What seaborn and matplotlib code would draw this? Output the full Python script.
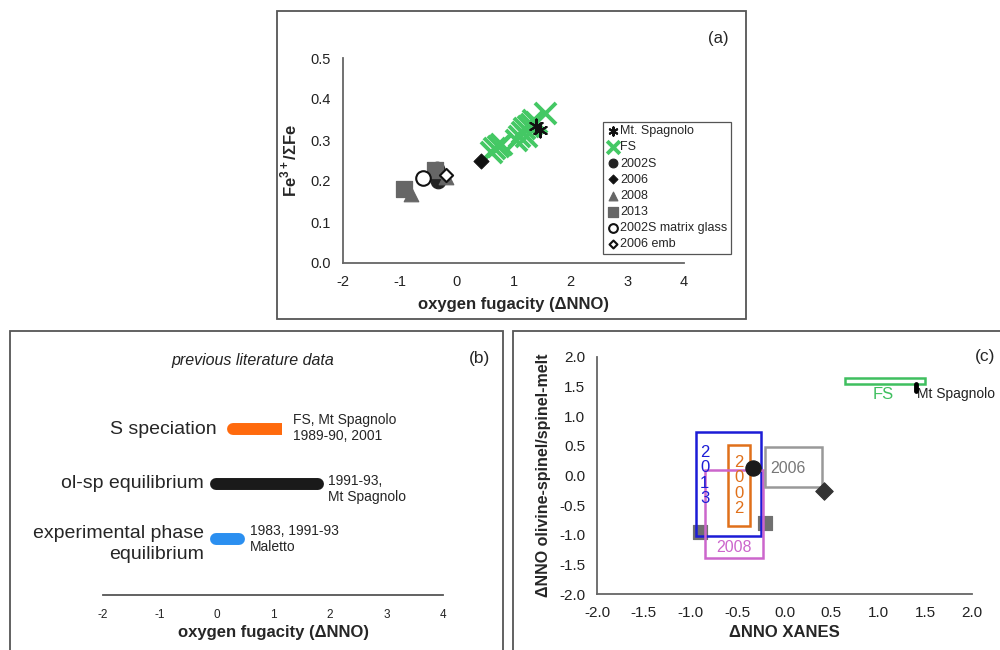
import matplotlib
matplotlib.use("Agg")
import matplotlib.pyplot as plt
from matplotlib.patches import Rectangle
import seaborn as sns
import pandas as pd

# --- panel (a): Fe3+/sumFe vs oxygen fugacity ---
spagnolo_x = [1.40, 1.47]
spagnolo_y = [0.335, 0.325]
fs_x = [0.60, 0.65, 0.72, 0.78, 1.05, 1.10, 1.15, 1.18, 1.22, 1.25, 1.30, 1.35, 1.40, 1.55]
fs_y = [0.270, 0.280, 0.285, 0.290, 0.300, 0.310, 0.320, 0.330, 0.310, 0.335, 0.340, 0.350, 0.345, 0.365]
s2002_x = [-0.35, -0.33]
s2002_y = [0.230, 0.200]
e2006_x = [0.43]
e2006_y = [0.250]
e2008_x = [-0.80, -0.18]
e2008_y = [0.168, 0.210]
e2013_x = [-0.92, -0.38]
e2013_y = [0.180, 0.226]
glass_x = [-0.60]
glass_y = [0.207]
emb_x = [-0.18]
emb_y = [0.215]

# --- panel (b): previous literature ranges (dNNO) ---
lit_methods = ["experimental phase\nequilibrium", "ol-sp equilibrium", "S speciation"]
lit_lo = [0.0, 0.0, 0.30]
lit_hi = [0.40, 1.80, 1.15]
lit_notes = ["1983, 1991-93\nMaletto", "1991-93,\nMt Spagnolo", "FS, Mt Spagnolo\n1989-90, 2001"]
lit_colors = ["#2b8ff0", "#1a1a1a", "#ff6a0d"]

# --- panel (c): XANES vs olivine-spinel boxes ---
box_names = ["FS", "2013", "2002", "2008", "2006"]
box_x0 = [0.65, -0.94, -0.60, -0.85, -0.21]
box_x1 = [1.50, -0.25, -0.37, -0.23, 0.40]
box_y0 = [1.55, -1.02, -0.86, -1.40, -0.20]
box_y1 = [1.65, 0.74, 0.51, 0.10, 0.48]
box_colors = ["#3fbf5f", "#1c1cd6", "#e0701a", "#cc66cc", "#999999"]
c_circle = ([-0.34], [0.12])
c_diamond = ([0.42], [-0.27])
c_squares = ([-0.90, -0.21], [-0.95, -0.80])
c_spagnolo = ([1.40, 1.40], [1.42, 1.55])

sns.set_theme(style="white")
plt.rcParams["font.family"] = ["Liberation Sans", "DejaVu Sans"]
plt.rcParams["axes.unicode_minus"] = False
plt.rcParams["mathtext.fontset"] = "custom"
plt.rcParams["mathtext.bf"] = "Liberation Sans:bold"
plt.rcParams["mathtext.rm"] = "Liberation Sans"

W, H = 1000, 650
fig = plt.figure(figsize=(10, 6.5), dpi=100)


def px_axes(x0, y0, x1, y1):
    return fig.add_axes([x0 / W, 1 - y1 / H, (x1 - x0) / W, (y1 - y0) / H])


def frame(x0, y0, x1, y1):
    fig.add_artist(Rectangle((x0 / W, 1 - y1 / H), (x1 - x0) / W, (y1 - y0) / H,
                             transform=fig.transFigure, fill=False, ec="#555555", lw=1.3))


def style_axes(ax, col="#666666"):
    for s in ["top", "right"]:
        ax.spines[s].set_visible(False)
    for s in ["left", "bottom"]:
        ax.spines[s].set_color(col)
        ax.spines[s].set_linewidth(1.3)
    ax.tick_params(direction="out", length=5, width=1.2, color=col, labelcolor="#222222")


frame(277, 11, 746, 319)
frame(10, 331, 503, 660)
frame(513, 331, 1003, 660)

# ================= (a) =================
ax = px_axes(343, 58, 684, 263)
style_axes(ax)
kw = dict(ax=ax, legend=True)
sns.scatterplot(x=spagnolo_x, y=spagnolo_y, marker=(6, 2, 0), s=100, color="#111111",
                linewidth=1.5, label="Mt. Spagnolo", zorder=4, **kw)
sns.scatterplot(x=fs_x, y=fs_y, marker="x", s=230, color="#44c864", linewidth=2.8,
                label="FS", zorder=3, **kw)
sns.scatterplot(x=s2002_x, y=s2002_y, marker="o", s=110, color="#222222", edgecolor="#222222",
                label="2002S", zorder=3, **kw)
sns.scatterplot(x=e2006_x, y=e2006_y, marker="D", s=60, color="#111111", edgecolor="#111111",
                label="2006", zorder=3, **kw)
sns.scatterplot(x=e2008_x, y=e2008_y, marker="^", s=110, color="#666666", edgecolor="#666666",
                label="2008", zorder=3, **kw)
sns.scatterplot(x=e2013_x, y=e2013_y, marker="s", s=130, color="#666666", edgecolor="#666666",
                label="2013", zorder=3, **kw)
sns.scatterplot(x=glass_x, y=glass_y, marker="o", s=110, facecolor="white", edgecolor="#111111",
                linewidth=1.5, label="2002S matrix glass", zorder=4, **kw)
sns.scatterplot(x=emb_x, y=emb_y, marker="D", s=45, facecolor="white", edgecolor="#111111",
                linewidth=1.5, label="2006 emb", zorder=4, **kw)
ax.set_xlim(-2, 4)
ax.set_ylim(0, 0.5)
ax.set_xticks(range(-2, 5))
ax.set_yticks([0, 0.1, 0.2, 0.3, 0.4, 0.5])
ax.set_yticklabels(["0.0", "0.1", "0.2", "0.3", "0.4", "0.5"])
ax.tick_params(labelsize=10.5)
ax.set_xlabel("oxygen fugacity (ΔNNO)", fontsize=12, fontweight="bold", labelpad=6)
ax.set_ylabel(r"Fe$^{\mathbf{3+}}$/ΣFe", fontsize=12, fontweight="bold", labelpad=8)
leg = ax.legend(loc="upper left", bbox_to_anchor=(0.762, 0.69), fontsize=9, frameon=True,
                fancybox=False, edgecolor="#555555", framealpha=1, handletextpad=0.1,
                labelspacing=0.33, borderpad=0.3, handlelength=1.0, markerscale=0.6,
                borderaxespad=0)
leg.get_frame().set_linewidth(0.9)
fig.text(718 / W, 1 - 38 / H, "(a)", fontsize=12, ha="center", va="center")

# ================= (b) =================
axb = px_axes(103, 340, 443, 595)
for s in ["top", "right", "left"]:
    axb.spines[s].set_visible(False)
axb.spines["bottom"].set_color("#555555")
axb.spines["bottom"].set_linewidth(1.3)
axb.tick_params(axis="x", direction="inout", length=8, width=1.2, color="#555555",
                labelsize=8.5, labelcolor="#222222", pad=6)
axb.set_yticks([])
for i, (lo, hi, col) in enumerate(zip(lit_lo, lit_hi, lit_colors)):
    if i == 2:
        # S speciation: rounded on the left only
        axb.plot([lo, (lo + hi) / 2], [i, i], color=col, lw=8.6, solid_capstyle="round")
        axb.plot([(lo + hi) / 2, hi], [i, i], color=col, lw=8.6, solid_capstyle="butt")
    else:
        axb.plot([lo, hi], [i, i], color=col, lw=8.6, solid_capstyle="round")
axb.text(-0.22, 0.26, lit_methods[0], ha="right", va="top", fontsize=14, linespacing=1.3)
axb.text(-0.22, 1, lit_methods[1], ha="right", va="center", fontsize=14)
axb.text(0.01, 2, lit_methods[2], ha="right", va="center", fontsize=14)
axb.text(0.59, 0, lit_notes[0], ha="left", va="center", fontsize=10, linespacing=1.2)
axb.text(1.97, 0.91, lit_notes[1], ha="left", va="center", fontsize=10, linespacing=1.2)
axb.text(1.35, 2.02, lit_notes[2], ha="left", va="center", fontsize=10, linespacing=1.2)
axb.set_xlim(-2, 4)
axb.set_ylim(-1.02, 3.62)
axb.set_xticks(range(-2, 5))
axb.set_xlabel("oxygen fugacity (ΔNNO)", fontsize=12, fontweight="bold", labelpad=3)
fig.text(253 / W, 1 - 360 / H, "previous literature data", fontsize=11.5, style="italic",
         ha="center", va="center", color="#222222")
fig.text(480 / W, 1 - 358 / H, "(b)", fontsize=12.5, ha="center", va="center")

# ================= (c) =================
axc = px_axes(597, 357, 972, 594)
style_axes(axc)
for name, x0, x1, y0, y1, col in zip(box_names, box_x0, box_x1, box_y0, box_y1, box_colors):
    axc.add_patch(Rectangle((x0, y0), x1 - x0, y1 - y0, fill=False, ec=col, lw=1.8, zorder=3))
sns.scatterplot(x=c_squares[0], y=c_squares[1], marker="s", s=110, color="#707070",
                edgecolor="#707070", ax=axc, zorder=2)
sns.scatterplot(x=c_circle[0], y=c_circle[1], marker="o", s=120, color="#1a1a1a",
                edgecolor="#1a1a1a", ax=axc, zorder=4)
sns.scatterplot(x=c_diamond[0], y=c_diamond[1], marker="D", s=80, color="#333333",
                edgecolor="#333333", ax=axc, zorder=4)
sns.lineplot(x=c_spagnolo[0], y=c_spagnolo[1], color="black", lw=3.5, ax=axc,
             estimator=None, sort=False, zorder=4)
axc.text(1.05, 1.37, "FS", color=box_colors[0], fontsize=12, ha="center", va="center")
axc.text(1.41, 1.37, "Mt Spagnolo", color="#222222", fontsize=10, ha="left", va="center")
axc.text(-0.85, 0.0, "2\n0\n1\n3", color=box_colors[1], fontsize=12, ha="center",
         va="center", linespacing=1.05)
axc.text(-0.485, -0.17, "2\n0\n0\n2", color=box_colors[2], fontsize=12, ha="center",
         va="center", linespacing=1.05)
axc.text(-0.54, -1.22, "2008", color=box_colors[3], fontsize=11.5, ha="center", va="center")
axc.text(0.04, 0.12, "2006", color="#777777", fontsize=11.5, ha="center", va="center")
axc.set_xlim(-2, 2)
axc.set_ylim(-2, 2)
ticks = [-2.0, -1.5, -1.0, -0.5, 0.0, 0.5, 1.0, 1.5, 2.0]
axc.set_xticks(ticks)
axc.set_yticks(ticks)
axc.set_xticklabels([f"{t:.1f}" for t in ticks])
axc.set_yticklabels([f"{t:.1f}" for t in ticks])
axc.tick_params(labelsize=11)
axc.set_xlabel("ΔNNO XANES", fontsize=12, fontweight="bold", labelpad=4)
axc.set_ylabel("ΔNNO olivine-spinel/spinel-melt", fontsize=11.5, fontweight="bold", labelpad=6)
fig.text(985 / W, 1 - 357 / H, "(c)", fontsize=12.5, ha="center", va="center")

fig.savefig("out.png", dpi=100)
